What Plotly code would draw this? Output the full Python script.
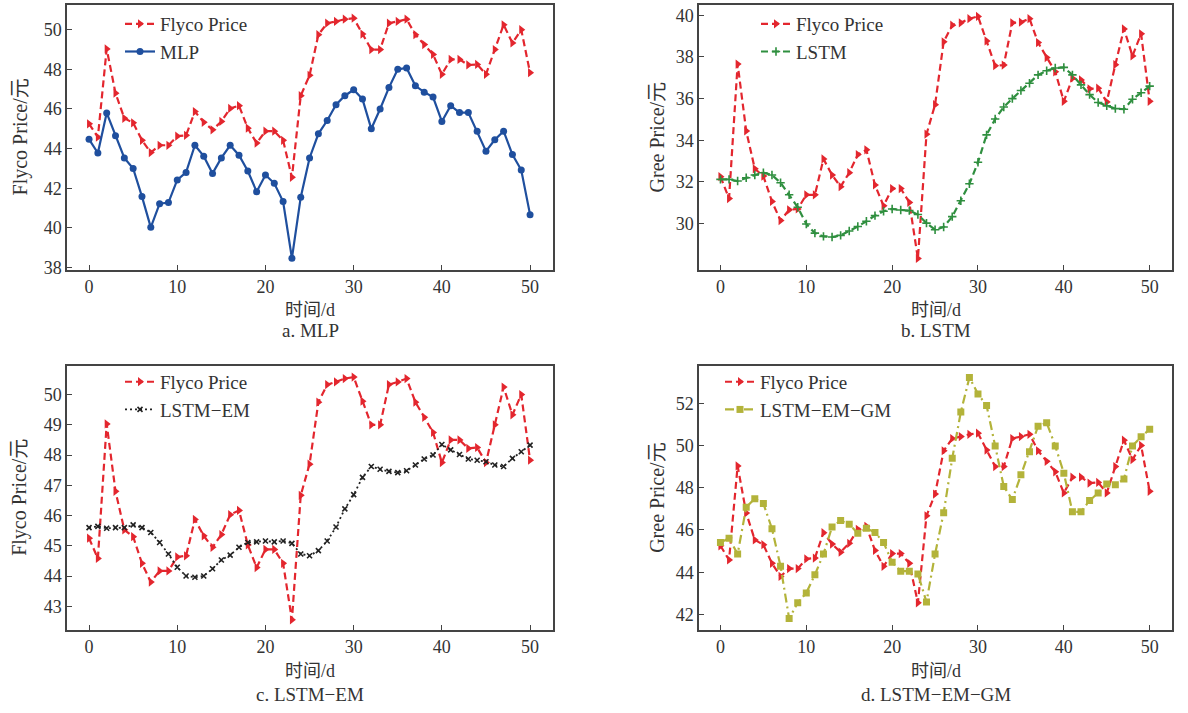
import plotly.graph_objects as go

days = list(range(51))

flyco_price = [45.25, 44.58, 49.03, 46.8, 45.53, 45.3, 44.42, 43.8, 44.17, 44.17,
               44.63, 44.67, 45.87, 45.33, 44.95, 45.37, 46.03, 46.17, 45.03, 44.28,
               44.88, 44.88, 44.42, 42.55, 46.67, 47.7, 49.75, 50.33, 50.42, 50.53,
               50.58, 49.78, 49.0, 49.0, 50.33, 50.42, 50.53, 49.75, 49.25, 48.75,
               47.75, 48.5, 48.5, 48.22, 48.25, 47.75, 49.0, 50.25, 49.33, 50.0, 47.83]

mlp = [44.47, 43.78, 45.8, 44.65, 43.53, 43.0, 41.58, 40.03, 41.22, 41.28,
       42.42, 42.8, 44.17, 43.62, 42.75, 43.53, 44.17, 43.67, 42.87, 41.83,
       42.67, 42.25, 41.33, 38.47, 41.55, 43.53, 44.75, 45.42, 46.22, 46.67,
       46.97, 46.5, 45.0, 46.0, 47.08, 48.0, 48.07, 47.17, 46.85, 46.6,
       45.37, 46.17, 45.82, 45.82, 44.88, 43.87, 44.45, 44.88, 43.7, 42.92, 40.67]

gree_price = [32.25, 31.2, 37.66, 34.45, 32.63, 32.28, 31.06, 30.14, 30.66, 30.7,
              31.38, 31.38, 33.1, 32.33, 31.77, 32.44, 33.31, 33.54, 31.85, 30.85,
              31.68, 31.68, 31.01, 28.32, 34.29, 35.71, 38.73, 39.53, 39.64, 39.84,
              39.95, 38.77, 37.58, 37.61, 39.64, 39.67, 39.84, 38.69, 37.97, 37.29,
              35.87, 36.98, 36.9, 36.47, 36.5, 35.84, 37.63, 39.35, 38.05, 39.11, 35.87]

lstm = [32.12, 32.12, 32.04, 32.2, 32.33, 32.44, 32.33, 31.96, 31.38, 30.78,
        29.98, 29.54, 29.38, 29.35, 29.43, 29.64, 29.86, 30.11, 30.38, 30.59,
        30.7, 30.65, 30.62, 30.43, 30.02, 29.7, 29.83, 30.33, 31.09, 31.91,
        32.94, 34.26, 35.02, 35.6, 36.0, 36.39, 36.74, 37.14, 37.34, 37.47,
        37.5, 37.14, 36.66, 36.19, 35.81, 35.65, 35.52, 35.49, 35.97, 36.28, 36.6]

lstm_em = [45.6, 45.64, 45.58, 45.6, 45.6, 45.69, 45.6, 45.44, 45.11, 44.73,
           44.29, 44.0, 43.96, 44.0, 44.24, 44.53, 44.69, 44.95, 45.11, 45.13,
           45.16, 45.13, 45.16, 45.08, 44.73, 44.67, 44.84, 45.16, 45.62, 46.22,
           46.69, 47.26, 47.62, 47.53, 47.46, 47.42, 47.48, 47.67, 47.87, 48.0,
           48.35, 48.17, 48.02, 47.87, 47.83, 47.78, 47.67, 47.62, 47.89, 48.11, 48.33]

lstm_em_gm = [45.41, 45.61, 44.86, 47.08, 47.48, 47.25, 46.06, 44.28, 41.81, 42.55,
              43.02, 43.88, 44.86, 46.14, 46.45, 46.27, 45.84, 46.08, 45.88, 45.41,
              44.47, 44.05, 44.05, 43.92, 42.59, 44.86, 46.81, 49.39, 51.58, 53.22,
              52.44, 51.89, 49.98, 48.06, 47.44, 48.61, 49.7, 50.91, 51.08, 49.98,
              48.69, 46.86, 46.86, 47.39, 47.75, 48.17, 48.14, 48.41, 49.98, 50.41, 50.77]

x_ticks = [0, 10, 20, 30, 40, 50]
x_title = "时间/d"
captions = ["a. MLP", "b. LSTM", "c. LSTM−EM", "d. LSTM−EM−GM"]
y_titles = ["Flyco Price/元", "Gree Price/元", "Flyco Price/元", "Gree Price/元"]

W, H = 1188, 713
FONT = "Liberation Serif, Times New Roman, Noto Sans CJK SC, serif"
TXT = "#333333"
RED = "#e3262e"
BLUE = "#1f4f9e"
GREEN = "#2f8f3f"
OLIVE = "#b3b33a"
BLACK = "#222222"

def px(x):
    return x / W

def py(y):
    return 1 - y / H

# panel boxes in pixels: (left, right, top, bottom)
boxes = [(67, 553, 5, 273), (699, 1172, 5, 273), (67, 553, 370, 637), (699, 1172, 370, 637)]
yranges = [[37.88, 51.25], [27.77, 40.5], [42.22, 50.95], [41.27, 53.77]]
ytickvals = [[38, 40, 42, 44, 46, 48, 50], [30, 32, 34, 36, 38, 40],
             [43, 44, 45, 46, 47, 48, 49, 50], [42, 44, 46, 48, 50, 52]]
# (title y, caption y) in pixels
label_y = [(314, 334), (314, 334), (679, 702), (679, 702)]

fig = go.Figure()

series = [
    [("Flyco Price", flyco_price, RED, "dash", "triangle-right", 8),
     ("MLP", mlp, BLUE, "solid", "circle", 7)],
    [("Flyco Price", gree_price, RED, "dash", "triangle-right", 8),
     ("LSTM", lstm, GREEN, "dash", "cross-thin", 6)],
    [("Flyco Price", flyco_price, RED, "dash", "triangle-right", 8),
     ("LSTM−EM", lstm_em, BLACK, "dot", "x-thin", 5)],
    [("Flyco Price", flyco_price, RED, "dash", "triangle-right", 8),
     ("LSTM−EM−GM", lstm_em_gm, OLIVE, "dashdot", "square", 7)],
]

legend_pos = [(120, 5), (756, 5), (120, 367), (720, 367)]

for i, (panel, box) in enumerate(zip(series, boxes)):
    n = "" if i == 0 else str(i + 1)
    for name, vals, col, dash, sym, msize in panel:
        dashstyle = {"dash": "7px,4px", "dot": "2px,3px", "dashdot": "9px,4px,2px,4px", "solid": "solid"}[dash]
        mk = dict(symbol=sym, size=msize, color=col)
        if "thin" in sym:
            mk["line"] = dict(color=col, width=1.6)
        fig.add_trace(go.Scatter(
            x=days, y=vals, name=name, mode="lines+markers",
            line=dict(color=col, width=2.2 if dash != "dot" else 1.8, dash=dashstyle),
            marker=mk, xaxis="x" + n, yaxis="y" + n,
            legend="legend" + n,
        ))
    l, r, t, b = box
    axstyle = dict(showline=True, mirror=True, linecolor="#444444", linewidth=1.5,
                   ticks="inside", ticklen=5, tickcolor="#444444", showgrid=False,
                   zeroline=False, tickfont=dict(family=FONT, size=18, color=TXT))
    fig.update_layout(**{
        "xaxis" + n: dict(domain=[px(l), px(r)], anchor="y" + n, range=[-2.5, 52.6],
                          tickvals=x_ticks, **axstyle),
        "yaxis" + n: dict(domain=[py(b), py(t)], anchor="x" + n, range=yranges[i],
                          tickvals=ytickvals[i], **axstyle),
        "legend" + n: dict(x=px(legend_pos[i][0]), y=py(legend_pos[i][1]), xanchor="left",
                           yanchor="top", bgcolor="rgba(0,0,0,0)", tracegroupgap=0,
                           itemwidth=30, font=dict(family=FONT, size=19, color=TXT)),
    })
    cx = (l + r) / 2
    fig.add_annotation(x=px(cx), y=py(label_y[i][0]), xref="paper", yref="paper", text=x_title,
                       xanchor="center", yanchor="middle",
                       showarrow=False, font=dict(family=FONT, size=18, color=TXT))
    fig.add_annotation(x=px(cx), y=py(label_y[i][1]), xref="paper", yref="paper", text=captions[i],
                       xanchor="center", yanchor="middle",
                       showarrow=False, font=dict(family=FONT, size=19, color=TXT))
    ycx = 20 if i % 2 == 0 else 657
    fig.add_annotation(x=px(ycx), y=py((t + b) / 2), xref="paper", yref="paper",
                       text=y_titles[i], textangle=-90, showarrow=False,
                       xanchor="center", yanchor="middle",
                       font=dict(family=FONT, size=20, color=TXT))

fig.update_layout(width=W, height=H, margin=dict(l=0, r=0, t=0, b=0),
                  paper_bgcolor="white", plot_bgcolor="white", showlegend=True)

fig.write_html("out.html")
